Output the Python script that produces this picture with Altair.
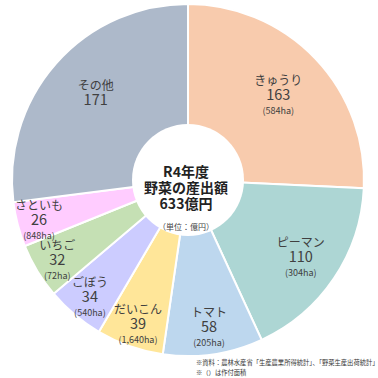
import altair as alt
import pandas as pd

names = ["きゅうり", "ピーマン", "トマト", "だいこん", "ごぼう", "いちご", "さといも", "その他"]
values = [163, 110, 58, 39, 34, 32, 26, 171]
areas = ["(584ha)", "(304ha)", "(205ha)", "(1,640ha)", "(540ha)", "(72ha)", "(848ha)", ""]
colors = ["#F8CBAD", "#ADD6D4", "#BDD7EE", "#FFE699", "#CCCCFF", "#C5E0B4", "#FFCCFF", "#ADB9CA"]
center_lines = ["R4年度", "野菜の産出額", "633億円"]
unit_label = "（単位：億円）"
notes = ["※資料：農林水産省「生産農業所得統計」、「野菜生産出荷統計」", "※（）は作付面積"]

df = pd.DataFrame({"name": names, "value": values, "area": areas, "idx": list(range(len(names)))})

CX, CY = 188, 180
FONT = "Noto Sans CJK JP"

base = alt.Chart(df).encode(
    theta=alt.Theta("value:Q", stack=True),
    order=alt.Order("idx:Q"),
    x=alt.value(CX),
    y=alt.value(CY),
)

arcs = base.mark_arc(outerRadius=176, innerRadius=0, stroke="white", strokeWidth=2).encode(
    color=alt.Color("name:N", scale=alt.Scale(domain=names, range=colors), legend=None)
)

hole = alt.Chart(pd.DataFrame({"v": [1]})).mark_arc(
    outerRadius=56, innerRadius=0, fill="white", theta=0, theta2=6.2832
).encode(x=alt.value(CX), y=alt.value(CY))

rad = alt.Radius("value:Q", scale=alt.Scale(type="linear", domain=[26, 171], range=[154, 123], zero=False))
tcol = "#404040"
lbl_name = base.mark_text(dy=-13, fontSize=12, font=FONT, color=tcol).encode(text="name:N", radius=rad)
lbl_val = base.mark_text(dy=2, fontSize=14.5, font=FONT, color=tcol).encode(text="value:Q", radius=rad)
lbl_area = base.mark_text(dy=17, fontSize=9, font=FONT, color=tcol).encode(text="area:N", radius=rad)

cdf = pd.DataFrame({"t": center_lines, "k": [0, 1, 2]})
center = alt.Chart(cdf).mark_text(fontSize=14, fontWeight="bold", font=FONT, color="#222222").encode(
    text="t:N",
    x=alt.value(CX - 2),
    y=alt.Y("k:Q", scale=alt.Scale(domain=[0, 2], range=[CY - 7, CY + 25]), axis=None),
)
unit = alt.Chart(pd.DataFrame({"t": [unit_label]})).mark_text(fontSize=8, font=FONT, color="#444444").encode(
    text="t:N", x=alt.value(CX - 2), y=alt.value(CY + 48)
)

ndf = pd.DataFrame({"t": notes, "k": [0, 1]})
note = alt.Chart(ndf).mark_text(fontSize=6.3, font=FONT, color="#333333", align="left").encode(
    text="t:N",
    x=alt.value(196),
    y=alt.Y("k:Q", scale=alt.Scale(domain=[0, 1], range=[363, 373]), axis=None),
)

chart = alt.layer(arcs, hole, lbl_name, lbl_val, lbl_area, center, unit, note).resolve_scale(
    y="independent"
).properties(
    width=378, height=378, autosize=alt.AutoSizeParams(type="none"), padding=0
).configure_view(stroke=None)

chart.save("out.html", embed_options={"renderer": "svg", "actions": False})
